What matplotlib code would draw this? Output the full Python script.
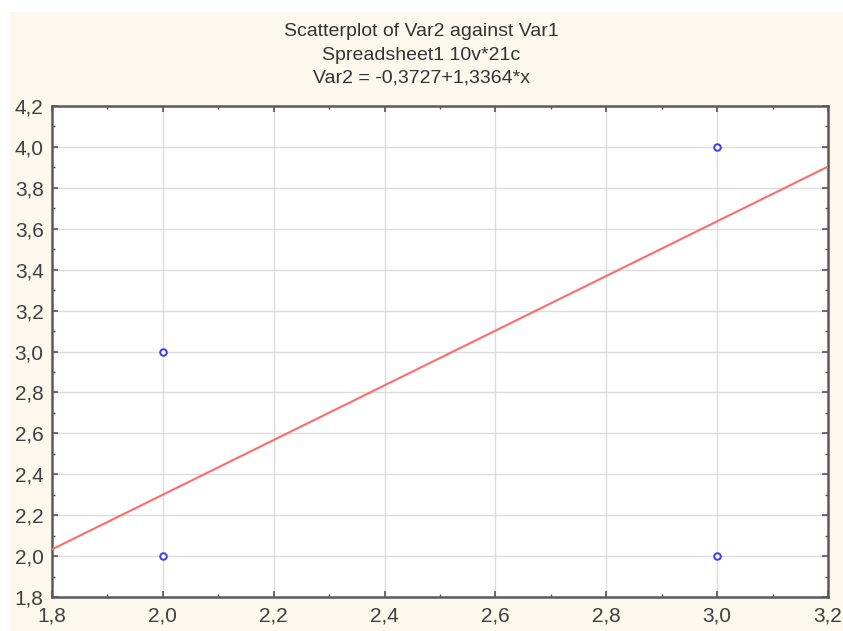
import numpy as np
import matplotlib.pyplot as plt
from matplotlib.patches import Rectangle
from matplotlib.ticker import MultipleLocator, FuncFormatter

var1 = [2.0, 2.0, 3.0, 3.0]
var2 = [2.0, 3.0, 2.0, 4.0]
intercept = -0.3727
slope = 1.3364
title_lines = ["Scatterplot of Var2 against Var1",
               "Spreadsheet1 10v*21c",
               "Var2 = -0,3727+1,3364*x"]

plt.rcParams['font.family'] = ['Liberation Sans', 'DejaVu Sans']
txt = '#333333'

fig = plt.figure(figsize=(8.43, 6.31), dpi=100, facecolor='white')
fig.patches.append(Rectangle((10 / 843, 0), 1, 1 - 12 / 631, transform=fig.transFigure,
                             facecolor='#fdf8ee', edgecolor='none', zorder=-5))

ax = fig.add_axes([52 / 843, 34 / 631, 776 / 843, 491 / 631])
ax.set_zorder(2)
ax.set_facecolor('white')

x = np.linspace(1.8, 3.2, 2)
ax.plot(x, intercept + slope * x, color='#ff6b6b', linewidth=1.5, zorder=3)
ax.scatter(var1, var2, s=22, facecolors='white', edgecolors='#3a3aff', linewidths=1.4, zorder=4)

ax.set_xlim(1.8, 3.2)
ax.set_ylim(1.8, 4.2)
ax.xaxis.set_major_locator(MultipleLocator(0.2))
ax.yaxis.set_major_locator(MultipleLocator(0.2))
ax.xaxis.set_minor_locator(MultipleLocator(0.1))
ax.yaxis.set_minor_locator(MultipleLocator(0.1))
fmt = FuncFormatter(lambda v, p: f'{v:.1f}'.replace('.', ','))
ax.xaxis.set_major_formatter(fmt)
ax.yaxis.set_major_formatter(fmt)
ax.grid(True, which='major', color='#dcdcdc', linewidth=1.0)
ax.set_axisbelow(True)
ax.tick_params(which='both', direction='in', top=True, right=True, colors='#555555',
               labelcolor='#404040', labelsize=15)
ax.tick_params(which='major', length=4, width=1.2)
ax.tick_params(which='minor', length=2.5, width=1)
ax.tick_params(axis='y', which='major', pad=6)
ax.tick_params(axis='x', which='major', pad=7)
for s in ax.spines.values():
    s.set_color('#5a5a5a')
    s.set_linewidth(1.8)

for i, line in enumerate(title_lines):
    fig.text(0.5, 1 - (32 + 23 * i) / 631, line, ha='center', va='center',
             fontsize=14, color=txt)

fig.savefig('out.png', dpi=100, facecolor=fig.get_facecolor())
